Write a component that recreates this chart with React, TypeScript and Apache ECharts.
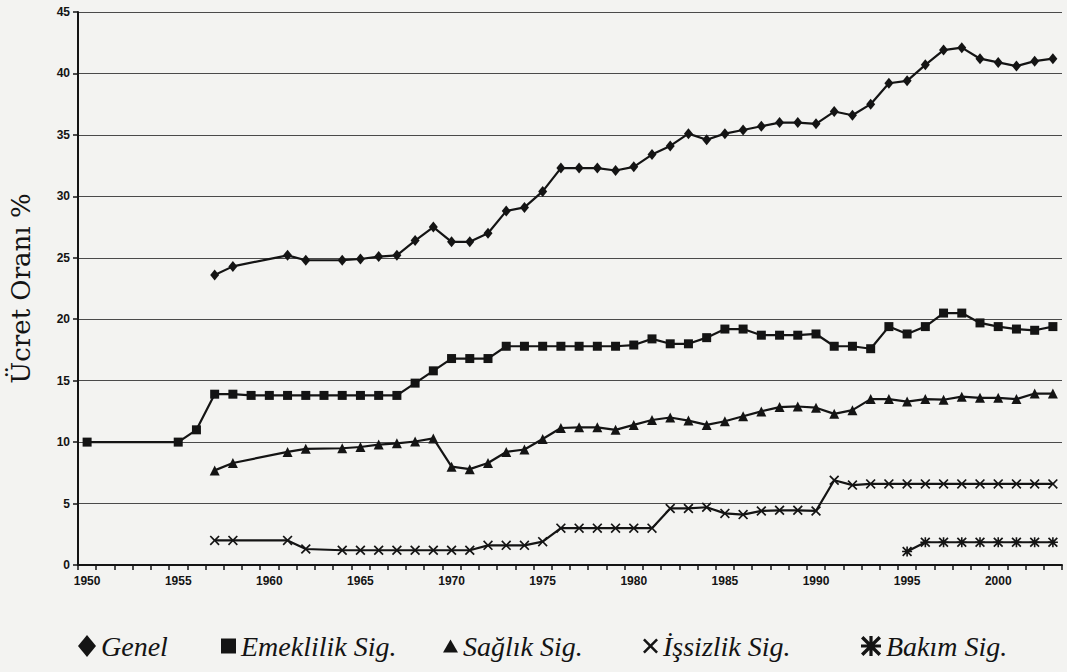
import React, { useEffect, useRef } from "react";
import * as echarts from "echarts";

const years = [
  "1950", "1951", "1952", "1953", "1954", "1955", "1956", "1957", "1958", "1959",
  "1960", "1961", "1962", "1963", "1964", "1965", "1966", "1967", "1968", "1969",
  "1970", "1971", "1972", "1973", "1974", "1975", "1976", "1977", "1978", "1979",
  "1980", "1981", "1982", "1983", "1984", "1985", "1986", "1987", "1988", "1989",
  "1990", "1991", "1992", "1993", "1994", "1995", "1996", "1997", "1998", "1999",
  "2000", "2001", "2002", "2003",
];

const genel = [
  null, null, null, null, null, null, null, 23.6, 24.3, null,
  null, 25.2, 24.8, null, 24.8, 24.9, 25.1, 25.2, 26.4, 27.5,
  26.3, 26.3, 27.0, 28.8, 29.1, 30.4, 32.3, 32.3, 32.3, 32.1,
  32.4, 33.4, 34.1, 35.1, 34.6, 35.1, 35.4, 35.7, 36.0, 36.0,
  35.9, 36.9, 36.6, 37.5, 39.2, 39.4, 40.7, 41.9, 42.1, 41.2,
  40.9, 40.6, 41.0, 41.2,
];

const emeklilik = [
  10.0, null, null, null, null, 10.0, 11.0, 13.9, 13.9, 13.8,
  13.8, 13.8, 13.8, 13.8, 13.8, 13.8, 13.8, 13.8, 14.8, 15.8,
  16.8, 16.8, 16.8, 17.8, 17.8, 17.8, 17.8, 17.8, 17.8, 17.8,
  17.9, 18.4, 18.0, 18.0, 18.5, 19.2, 19.2, 18.7, 18.7, 18.7,
  18.8, 17.8, 17.8, 17.6, 19.4, 18.8, 19.4, 20.5, 20.5, 19.7,
  19.4, 19.2, 19.1, 19.4,
];

const saglik = [
  null, null, null, null, null, null, null, 7.7, 8.3, null,
  null, 9.2, 9.45, null, 9.5, 9.6, 9.8, 9.9, 10.05, 10.3,
  8.0, 7.8, 8.3, 9.2, 9.4, 10.25, 11.15, 11.2, 11.2, 11.0,
  11.4, 11.8, 12.0, 11.75, 11.4, 11.7, 12.1, 12.5, 12.85, 12.9,
  12.8, 12.3, 12.6, 13.5, 13.5, 13.3, 13.5, 13.45, 13.7, 13.6,
  13.6, 13.5, 13.95, 13.95,
];

const issizlik = [
  null, null, null, null, null, null, null, 2.0, 2.0, null,
  null, 2.0, 1.3, null, 1.2, 1.2, 1.2, 1.2, 1.2, 1.2,
  1.2, 1.2, 1.6, 1.6, 1.6, 1.9, 3.0, 3.0, 3.0, 3.0,
  3.0, 3.0, 4.6, 4.6, 4.7, 4.2, 4.1, 4.4, 4.45, 4.45,
  4.4, 6.9, 6.5, 6.6, 6.6, 6.6, 6.6, 6.6, 6.6, 6.6,
  6.6, 6.6, 6.6, 6.6,
];

const bakim = [
  null, null, null, null, null, null, null, null, null, null,
  null, null, null, null, null, null, null, null, null, null,
  null, null, null, null, null, null, null, null, null, null,
  null, null, null, null, null, null, null, null, null, null,
  null, null, null, null, null, 1.1, 1.85, 1.85, 1.85, 1.85,
  1.85, 1.85, 1.85, 1.85,
];

const yTicks = { min: 0, max: 45, interval: 5 };

const seriesNames = ["Genel", "Emeklilik Sig.", "Sağlık Sig.", "İşsizlik Sig.", "Bakım Sig."];

const X_PATH =
  "path://M0,1.2 L1.2,0 L5,3.8 L8.8,0 L10,1.2 L6.2,5 L10,8.8 L8.8,10 L5,6.2 L1.2,10 L0,8.8 L3.8,5 Z";
const STAR_PATH =
  "path://M0,1.2 L1.2,0 L5,3.8 L8.8,0 L10,1.2 L6.2,5 L10,8.8 L8.8,10 L5,6.2 L1.2,10 L0,8.8 L3.8,5 Z M4.2,0 L5.8,0 L5.8,10 L4.2,10 Z M0,4.2 L10,4.2 L10,5.8 L0,5.8 Z";

const INK = "#141414";
const SERIF = "'Liberation Serif', 'DejaVu Serif', serif";

export default function App() {
  const ref = useRef<HTMLDivElement>(null);

  useEffect(() => {
    if (!ref.current) return;
    const chart = echarts.init(ref.current, null, { renderer: "svg" });

    const lineSeries = (name: string, data: (number | null)[], symbol: string, size: any) => ({
      name,
      type: "line",
      data,
      connectNulls: true,
      symbol,
      symbolSize: size,
      showSymbol: true,
      lineStyle: { color: INK, width: 2.2 },
      itemStyle: { color: INK, borderWidth: 0 },
      emphasis: { disabled: true },
    });

    const legendText = {
      fontFamily: SERIF,
      fontStyle: "italic",
      fontSize: 28,
      color: INK,
    };

    const mkLegend = (name: string, left: number, icon: string, w: number, h: number) => ({
      data: [{ name, icon }],
      left,
      top: 627,
      itemWidth: w,
      itemHeight: h,
      itemGap: 0,
      textStyle: legendText,
      selectedMode: false,
      itemStyle: { color: INK },
    });

    chart.setOption({
      animation: false,
      backgroundColor: "#f3f3f1",
      grid: { left: 76, right: 5, top: 12, bottom: 107, containLabel: false },
      legend: [
        mkLegend(seriesNames[0], 73, "diamond", 18, 22),
        mkLegend(seriesNames[1], 216, "rect", 15, 15),
        mkLegend(seriesNames[2], 438, "triangle", 15, 13),
        mkLegend(seriesNames[3], 638, X_PATH, 15, 15),
        mkLegend(seriesNames[4], 856, STAR_PATH, 20, 20),
      ],
      xAxis: {
        type: "category",
        data: years,
        boundaryGap: true,
        axisLine: { show: true, lineStyle: { color: INK, width: 2 } },
        axisTick: { show: true, interval: 0, length: 5, lineStyle: { color: INK, width: 1.5 } },
        axisLabel: {
          interval: 4,
          margin: 10,
          fontFamily: "Liberation Sans",
          fontWeight: "bold",
          fontSize: 12,
          color: INK,
        },
        splitLine: { show: false },
      },
      yAxis: {
        type: "value",
        min: yTicks.min,
        max: yTicks.max,
        interval: yTicks.interval,
        name: "Ücret Oranı %",
        nameLocation: "middle",
        nameGap: 44,
        nameTextStyle: {
          fontFamily: "DejaVu Serif",
          fontSize: 26,
          color: INK,
        },
        axisLine: { show: true, lineStyle: { color: INK, width: 2 } },
        axisTick: { show: true, length: 5, lineStyle: { color: INK, width: 1.5 } },
        axisLabel: {
          margin: 8,
          fontFamily: "Liberation Sans",
          fontWeight: "bold",
          fontSize: 12,
          color: INK,
        },
        splitLine: { show: true, lineStyle: { color: "#4a4a4a", width: 1.2 } },
      },
      series: [
        lineSeries(seriesNames[0], genel, "diamond", [9, 11]),
        lineSeries(seriesNames[1], emeklilik, "rect", 9),
        lineSeries(seriesNames[2], saglik, "triangle", 10),
        lineSeries(seriesNames[3], issizlik, X_PATH, 10),
        lineSeries(seriesNames[4], bakim, STAR_PATH, 10),
      ],
    });

    return () => chart.dispose();
  }, []);

  return (
    <div
      ref={ref}
      style={{ position: "fixed", left: 0, top: 0, width: 1067, height: 672 }}
    />
  );
}
